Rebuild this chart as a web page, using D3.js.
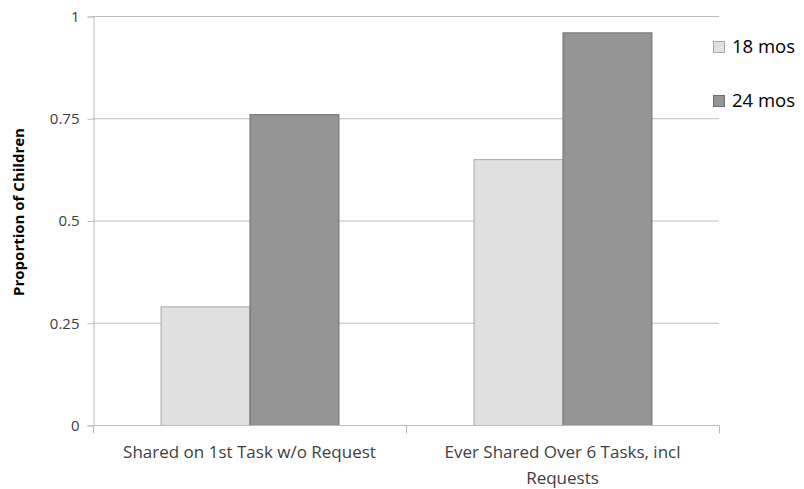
<!DOCTYPE html>
<html><head><meta charset="utf-8">
<script src="https://cdn.jsdelivr.net/npm/d3@7/dist/d3.min.js"></script>
<style>body{margin:0;background:#fff;}svg{display:block;font-family:"Open Sans",sans-serif;}</style>
</head><body>
<svg id="c" width="804" height="489"></svg>
<script>
const categories = [["Shared on 1st Task w/o Request"], ["Ever Shared Over 6 Tasks, incl", "Requests"]];
const seriesNames = ["18 mos", "24 mos"];
const values18 = [0.29, 0.65];
const values24 = [0.76, 0.96];
const yTicks = [0, 0.25, 0.5, 0.75, 1];
const yTickLabels = ["0", "0.25", "0.5", "0.75", "1"];

const svg = d3.select("#c");
const L = 93, R = 719, T = 16, B = 425;
const x = d3.scaleBand().domain(d3.range(categories.length)).range([L, R]).paddingInner(0).paddingOuter(0);
const x1 = d3.scaleBand().domain(seriesNames).range([0, x.bandwidth()]).paddingOuter(0.76).paddingInner(0);
const y = d3.scaleLinear().domain([0, 1]).range([B, T]);
const fills = {"18 mos": "#e0e0e0", "24 mos": "#959595"};
const strokes = {"18 mos": "#a6a6a6", "24 mos": "#6e6e6e"};

// gridlines
svg.append("g").selectAll("line").data(yTicks.slice(1)).join("line")
  .attr("x1", L).attr("x2", R).attr("y1", d => y(d)+0.5).attr("y2", d => y(d)+0.5)
  .attr("stroke", "#bcbcbc").attr("stroke-width", 1);

// y axis
const yAxis = d3.axisLeft(y).tickValues(yTicks).tickFormat((d,i) => yTickLabels[i]).tickSize(6).tickPadding(8);
const gy = svg.append("g").attr("transform", `translate(${L+0.5},0.5)`).call(yAxis);
gy.select(".domain").attr("stroke", "#bcbcbc");
gy.selectAll(".tick line").attr("stroke", "#bcbcbc");
gy.selectAll(".tick text").attr("fill", "#404040").style("font-size", "15px").style("font-family", "'Open Sans',sans-serif");

// bars
const data = [];
categories.forEach((c, i) => {
  data.push({cat: i, s: "18 mos", v: values18[i]});
  data.push({cat: i, s: "24 mos", v: values24[i]});
});
svg.append("g").selectAll("rect").data(data).join("rect")
  .attr("x", d => x(d.cat) + x1(d.s) + 0.5)
  .attr("y", d => y(d.v) + 0.5)
  .attr("width", x1.bandwidth())
  .attr("height", d => B - y(d.v))
  .attr("fill", d => fills[d.s])
  .attr("stroke", d => strokes[d.s]).attr("stroke-width", 1);

// x axis
const gx = svg.append("g").attr("transform", `translate(0,${B+0.5})`);
gx.append("line").attr("x1", L).attr("x2", R).attr("stroke", "#bcbcbc");
const bounds = d3.range(categories.length + 1).map(i => i < categories.length ? x(i) : R);
gx.selectAll("line.tk").data(bounds).join("line").attr("class", "tk")
  .attr("x1", d => Math.round(d)+0.5).attr("x2", d => Math.round(d)+0.5).attr("y1", 0).attr("y2", 8)
  .attr("stroke", "#bcbcbc");
categories.forEach((lines, i) => {
  const t = gx.append("text").attr("x", x(i) + x.bandwidth()/2).attr("y", 32)
    .attr("text-anchor", "middle").attr("fill", "#404040").style("font-size", "17px");
  lines.forEach((ln, j) => t.append("tspan").attr("x", x(i) + x.bandwidth()/2).attr("dy", j ? 26 : 0).text(ln));
});

// y label
svg.append("text").attr("transform", `translate(24,212) rotate(-90)`)
  .attr("text-anchor", "middle").style("font-size", "15px").style("font-weight", "bold").attr("fill", "#000")
  .text("Proportion of Children");

// legend
const lg = svg.append("g");
seriesNames.forEach((s, i) => {
  const base = 53 + i * 54;
  lg.append("rect").attr("x", 713.5).attr("y", base - 11.5).attr("width", 11).attr("height", 11)
    .attr("fill", fills[s]).attr("stroke", strokes[s]);
  lg.append("text").attr("x", 732).attr("y", base).style("font-size", "18.5px").attr("fill", "#000").text(s);
});
</script>
</body></html>
